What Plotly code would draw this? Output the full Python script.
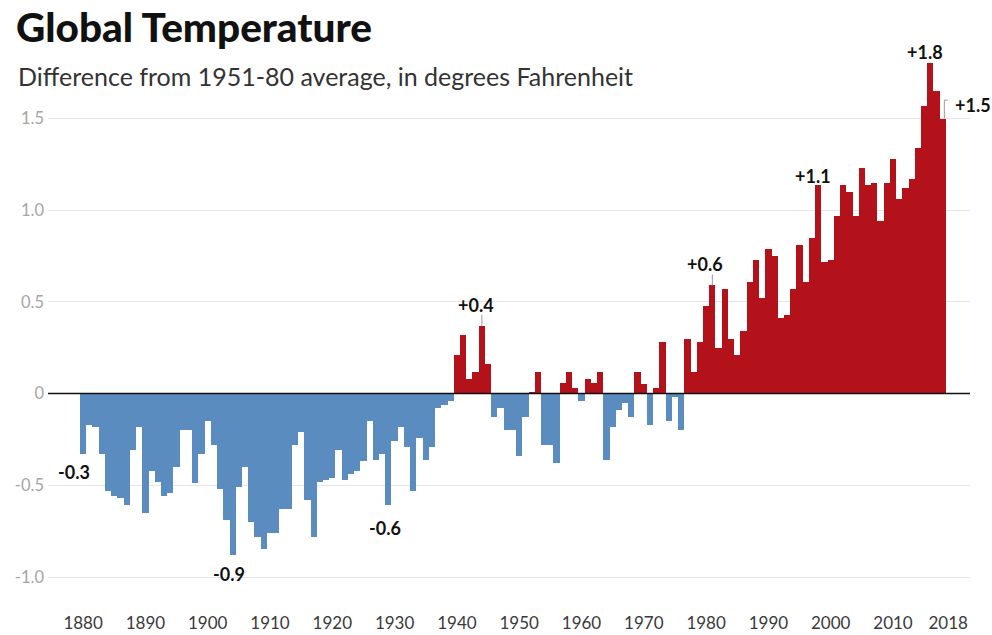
import plotly.graph_objects as go

# Annual global temperature anomaly, difference from the 1951-80 average (°F)
years = list(range(1880, 2019))
anomaly = [
    -0.33, -0.17, -0.18, -0.33, -0.53, -0.56, -0.57, -0.61, -0.31, -0.18,  # 1880s
    -0.65, -0.42, -0.48, -0.56, -0.54, -0.40, -0.20, -0.20, -0.49, -0.33,  # 1890s
    -0.15, -0.28, -0.52, -0.69, -0.88, -0.51, -0.40, -0.70, -0.78, -0.85,  # 1900s
    -0.76, -0.76, -0.63, -0.63, -0.28, -0.21, -0.58, -0.78, -0.48, -0.47,  # 1910s
    -0.46, -0.31, -0.47, -0.44, -0.42, -0.37, -0.15, -0.36, -0.33, -0.61,  # 1920s
    -0.26, -0.18, -0.29, -0.53, -0.24, -0.36, -0.29, -0.08, -0.06, -0.04,  # 1930s
    0.21, 0.32, 0.08, 0.12, 0.37, 0.16, -0.13, -0.08, -0.20, -0.20,        # 1940s
    -0.34, -0.13, 0.01, 0.12, -0.28, -0.28, -0.38, 0.06, 0.12, 0.03,       # 1950s
    -0.04, 0.08, 0.06, 0.12, -0.36, -0.18, -0.09, -0.05, -0.13, 0.12,      # 1960s
    0.05, -0.17, 0.03, 0.28, -0.15, -0.02, -0.20, 0.30, 0.12, 0.28,        # 1970s
    0.48, 0.59, 0.25, 0.57, 0.30, 0.21, 0.34, 0.61, 0.73, 0.52,            # 1980s
    0.79, 0.75, 0.41, 0.43, 0.57, 0.81, 0.61, 0.85, 1.14, 0.72,            # 1990s
    0.73, 0.97, 1.14, 1.10, 0.97, 1.23, 1.14, 1.15, 0.94, 1.15,            # 2000s
    1.28, 1.06, 1.12, 1.17, 1.34, 1.57, 1.80, 1.65, 1.50,                  # 2010s
]

x_tick_years = [1880, 1890, 1900, 1910, 1920, 1930, 1940, 1950, 1960,
                1970, 1980, 1990, 2000, 2010, 2018]
# the final label is nudged right with a leading space so it clears 2010
x_tick_labels = [str(y) for y in x_tick_years[:-1]] + ["\u2002\u2009" + str(x_tick_years[-1])]
y_tick_values = [-1.0, -0.5, 0, 0.5, 1.0, 1.5]
y_tick_labels = ["-1.0", "-0.5", "0", "0.5", "1.0", "1.5"]

# Highlighted years and the label shown next to each bar
callout_years = [1880, 1904, 1929, 1944, 1981, 1998, 2016, 2018]
callout_texts = ["-0.3", "-0.9", "-0.6", "+0.4", "+0.6", "+1.1", "+1.8", "+1.5"]

WARM = "#b3121b"
COOL = "#5b8cbf"

colors = [WARM if v > 0 else COOL for v in anomaly]

fig = go.Figure(
    go.Bar(
        x=years,
        y=anomaly,
        width=1,
        marker=dict(color=colors, line=dict(width=0)),
        hoverinfo="x+y",
    )
)

# plot area in pixels
W, H = 992, 635
L, R, T, B = 48, 970, 40, 608

value_of = dict(zip(years, anomaly))
text_of = dict(zip(callout_years, callout_texts))
font_lbl = dict(family="Lato, 'Open Sans', sans-serif", size=18, color="#111111")
LEADER = "#9a9a9a"

annotations = []


def callout(year, xshift, yshift, xanchor="center"):
    annotations.append(dict(
        x=year, y=value_of[year], xref="x", yref="y",
        text="<b>%s</b>" % text_of[year], font=font_lbl,
        xanchor=xanchor, yanchor="middle", showarrow=False,
        xshift=xshift, yshift=yshift, borderpad=0,
    ))


def leader(year, length_px):
    # short vertical tick from the top of a bar up towards its label
    fig.add_shape(
        type="line", xref="x", yref="y", ysizemode="pixel",
        yanchor=value_of[year], x0=year, x1=year, y0=0, y1=length_px,
        line=dict(color=LEADER, width=1),
    )


callout(1880, -9, -18)
callout(1904, -4, -19)
callout(1929, -3, -23)
callout(1944, -6, 21)
leader(1944, 11)
callout(1981, -7, 21)
leader(1981, 11)
callout(1998, -5, 9)
callout(2016, -5, 11)
callout(2018, 11, 14, xanchor="left")

# elbow leader for the last year
last = years[-1]
v_last = value_of[last]
fig.add_shape(
    type="path",
    xref="x", yref="y",
    path="M %.3f,%.3f L %.3f,%.3f L %.3f,%.3f" % (
        last + 0.24, v_last, last + 0.24, v_last + 0.1, last + 0.8, v_last + 0.1),
    line=dict(color=LEADER, width=1),
)

# zero baseline drawn over the bars
fig.add_shape(type="line", xref="paper", yref="y", x0=0, x1=1, y0=0, y1=0,
              line=dict(color="#111111", width=1.5), layer="above")


def px_x(px):
    return (px - L) / (R - L)


def px_y(py):
    return (B - py) / (B - T)


# title and subtitle
annotations.append(dict(
    x=px_x(14), y=px_y(27), xref="paper", yref="paper",
    text="Global Temperature", showarrow=False,
    xanchor="left", yanchor="middle",
    font=dict(family="Lato, sans-serif", size=40.5, color="#111111", weight=900),
))
annotations.append(dict(
    x=px_x(16), y=px_y(76), xref="paper", yref="paper",
    text="Difference from 1951-80 average, in degrees Fahrenheit", showarrow=False,
    xanchor="left", yanchor="middle",
    font=dict(family="Lato, sans-serif", size=25, color="#333333"),
))

ppu = 183.4  # pixels per degree
zero_px = 393.6
y_top = (zero_px - T) / ppu
y_bot = -(B - zero_px) / ppu
px_per_year = 6.23
x_left = 1880 - (83.1 - L) / px_per_year
x_right = x_left + (R - L) / px_per_year

fig.update_layout(
    width=W, height=H,
    margin=dict(l=L, r=W - R, t=T, b=H - B, pad=0, autoexpand=False),
    paper_bgcolor="white", plot_bgcolor="white",
    bargap=0, showlegend=False,
    annotations=annotations,
    font=dict(family="Lato, sans-serif"),
    xaxis=dict(
        range=[x_left, x_right], tickmode="array",
        tickvals=x_tick_years, ticktext=x_tick_labels,
        showgrid=False, zeroline=False, showline=False, ticks="",
        tickfont=dict(family="Lato, sans-serif", size=17, color="#3a3a3a"),
        ticklabelstandoff=3, automargin=False,
    ),
    yaxis=dict(
        range=[y_bot, y_top], tickmode="array",
        tickvals=y_tick_values, ticktext=y_tick_labels,
        showgrid=True, gridcolor="#e6e6e6", gridwidth=1,
        zeroline=False, showline=False, ticks="",
        tickfont=dict(family="Lato, sans-serif", size=16.5, color="#a5a5a5"),
        ticklabelstandoff=3, automargin=False,
    ),
)

fig.write_html("out.html")
